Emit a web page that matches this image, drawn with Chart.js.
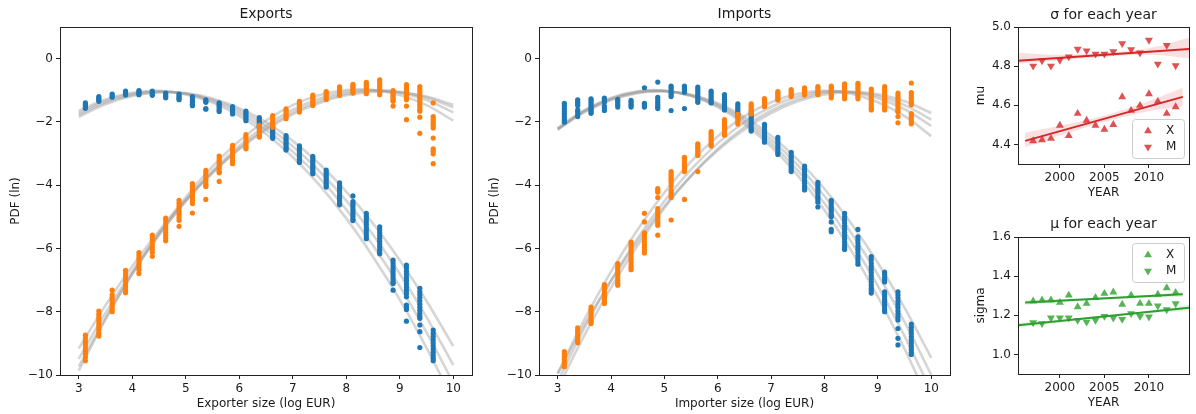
<!DOCTYPE html>
<html>
<head>
<meta charset="utf-8">
<script src="https://cdn.jsdelivr.net/npm/chart.js@4.4.1/dist/chart.umd.min.js"></script>
<style>
  body { margin: 0; background: #fff; }
  #wrap { position: relative; width: 1196px; height: 414px; }
  canvas { position: absolute; }
</style>
</head>
<body>
<div id="wrap">
  <canvas id="chartExp" width="480" height="414" style="left:0;top:0"></canvas>
  <canvas id="chartImp" width="480" height="414" style="left:479px;top:0"></canvas>
  <canvas id="chartMu" width="231" height="203" style="left:965px;top:0"></canvas>
  <canvas id="chartSigma" width="231" height="206" style="left:965px;top:207px"></canvas>
</div>
<script>
// ================= SIZE BINS / TICKS =================
const sizeBins = [3.125, 3.375, 3.625, 3.875, 4.125, 4.375, 4.625, 4.875, 5.125, 5.375, 5.625, 5.875, 6.125, 6.375,
  6.625, 6.875, 7.125, 7.375, 7.625, 7.875, 8.125, 8.375, 8.625, 8.875, 9.125, 9.375, 9.625];
const curveX = [3, 3.5, 4, 4.5, 5, 5.5, 6, 6.5, 7, 7.5, 8, 8.5, 9, 9.5, 10];
const sizeTicks = [3, 4, 5, 6, 7, 8, 9, 10];
const pdfTicks = [0, -2, -4, -6, -8, -10];

// ================= EXPORTS: ln PDF per bin (one list per bin) =================
const expX = [
  [-1.40, -1.45, -1.50, -1.54, -1.57], [-1.20, -1.25, -1.30, -1.35], [-1.12, -1.17, -1.22], [-1.03, -1.08, -1.12, -1.15],
  [-1.01, -1.06, -1.10, -1.14], [-1.03, -1.08, -1.12, -1.16], [-1.09, -1.14, -1.19, -1.24], [-1.12, -1.17, -1.22, -1.26, -1.30],
  [-1.20, -1.26, -1.32, -1.38, -1.44, -1.49], [-1.30, -1.34, -1.38, -1.58, -1.60], [-1.40, -1.45, -1.50, -1.55, -1.62, -1.67],
  [-1.52, -1.58, -1.64, -1.70, -1.75], [-1.66, -1.72, -1.78, -1.84, -1.90, -1.96], [-1.86, -1.92, -1.98, -2.04, -2.10, -2.16],
  [-2.18, -2.24, -2.30, -2.36, -2.42, -2.47, -2.52], [-2.43, -2.50, -2.57, -2.64, -2.71, -2.78, -2.84, -2.89],
  [-2.76, -2.83, -2.90, -2.97, -3.04, -3.11, -3.18, -3.24, -3.28], [-3.09, -3.16, -3.23, -3.30, -3.37, -3.44, -3.51, -3.58, -3.64],
  [-3.52, -3.59, -3.66, -3.73, -3.80, -3.87, -3.94, -4.00, -4.06], [-3.93, -4.01, -4.09, -4.17, -4.25, -4.33, -4.41, -4.49, -4.56, -4.62],
  [-4.34, -4.52, -4.60, -4.68, -4.76, -4.84, -4.92, -5.00, -5.07, -5.12], [-4.89, -4.98, -5.07, -5.16, -5.25, -5.34, -5.43, -5.52, -5.61, -5.69],
  [-5.32, -5.41, -5.50, -5.59, -5.68, -5.77, -5.86, -5.95, -6.04, -6.11, -6.17],
  [-6.37, -6.46, -6.55, -6.64, -6.73, -6.82, -6.91, -7.00, -7.07, -7.11, -7.32],
  [-6.53, -6.62, -6.72, -6.82, -6.92, -7.02, -7.12, -7.22, -7.32, -7.42, -7.53, -7.79, -7.86, -7.93, -8.30],
  [-7.26, -7.36, -7.46, -7.56, -7.66, -7.76, -7.86, -7.96, -8.06, -8.14, -8.21, -8.42, -8.63, -9.13],
  [-8.58, -8.68, -8.78, -8.88, -8.98, -9.08, -9.18, -9.28, -9.38, -9.47, -9.55]
];
const expM = [
  [-8.74, -8.84, -8.94, -9.04, -9.14, -9.24, -9.34, -9.44, -9.55], [-7.98, -8.08, -8.18, -8.28, -8.38, -8.48, -8.58, -8.68, -8.77],
  [-7.32, -7.47, -7.56, -7.65, -7.74, -7.83, -7.92, -8.00], [-6.69, -6.78, -6.87, -6.96, -7.05, -7.14, -7.23, -7.32, -7.40],
  [-6.13, -6.22, -6.31, -6.40, -6.49, -6.58, -6.67, -6.79], [-5.58, -5.67, -5.76, -5.85, -5.94, -6.03, -6.12, -6.25],
  [-5.04, -5.13, -5.22, -5.31, -5.40, -5.49, -5.58, -5.67, -5.76], [-4.48, -4.57, -4.66, -4.75, -4.84, -4.93, -5.02, -5.11, -5.30],
  [-3.95, -4.04, -4.13, -4.22, -4.31, -4.40, -4.49, -4.58, -4.88], [-3.53, -3.61, -3.69, -3.77, -3.85, -3.93, -4.00, -4.04, -4.45],
  [-3.08, -3.16, -3.24, -3.32, -3.40, -3.48, -3.56, -3.61, -3.88], [-2.74, -2.82, -2.90, -2.98, -3.06, -3.14, -3.22, -3.28, -3.32],
  [-2.40, -2.48, -2.56, -2.64, -2.72, -2.79, -2.85], [-2.11, -2.18, -2.25, -2.32, -2.39, -2.44, -2.48],
  [-1.80, -1.87, -1.94, -2.01, -2.08, -2.13, -2.17], [-1.59, -1.65, -1.71, -1.77, -1.83, -1.90],
  [-1.35, -1.41, -1.47, -1.53, -1.59, -1.64, -1.69], [-1.15, -1.21, -1.27, -1.33, -1.39, -1.44, -1.48],
  [-1.04, -1.10, -1.16, -1.22, -1.29], [-0.89, -0.95, -1.01, -1.07, -1.12, -1.16], [-0.81, -0.87, -0.93, -0.99, -1.04, -1.09],
  [-0.75, -0.81, -0.87, -0.93, -0.99, -1.05, -1.11], [-0.67, -0.74, -0.81, -0.88, -0.95, -1.02, -1.08, -1.14],
  [-1.01, -1.07, -1.13, -1.19, -1.25, -1.31, -1.35, -1.50], [-0.82, -0.89, -0.96, -1.03, -1.10, -1.17, -1.24, -1.30, -1.50, -1.93],
  [-0.88, -0.96, -1.04, -1.12, -1.20, -1.28, -1.36, -1.44, -1.52, -1.60, -1.66, -1.85, -2.36],
  [-1.40, -1.83, -1.90, -1.97, -2.04, -2.11, -2.19, -2.51, -2.85, -2.93, -3.01, -3.32]
];

// ================= IMPORTS: ln PDF per bin =================
const impX = [
  [-1.41, -1.49, -1.57, -1.65, -1.73, -1.81, -1.89, -1.96, -2.01], [-1.30, -1.36, -1.42, -1.48, -1.62, -1.68, -1.75, -1.83],
  [-1.27, -1.33, -1.39, -1.45, -1.51, -1.57, -1.63, -1.68, -1.73], [-1.25, -1.31, -1.37, -1.50, -1.56, -1.64],
  [-1.29, -1.34, -1.40, -1.46, -1.53], [-1.32, -1.37, -1.43, -1.48, -1.53], [-0.92, -1.41, -1.46, -1.50, -1.53],
  [-0.74, -1.22, -1.30, -1.38, -1.46, -1.52, -1.58], [-0.87, -0.94, -1.01, -1.08, -1.14, -1.20, -1.64],
  [-0.87, -0.93, -0.99, -1.06, -1.58], [-0.90, -0.97, -1.04, -1.11, -1.18, -1.25, -1.32, -1.38],
  [-1.03, -1.10, -1.17, -1.24, -1.31, -1.36, -1.40], [-1.14, -1.21, -1.28, -1.35, -1.42, -1.49, -1.56, -1.62],
  [-1.43, -1.50, -1.57, -1.64, -1.71, -1.76, -1.80], [-1.69, -1.77, -1.85, -1.93, -2.01, -2.09, -2.17, -2.24, -2.29],
  [-2.08, -2.16, -2.24, -2.32, -2.40, -2.48, -2.56, -2.64], [-2.49, -2.57, -2.65, -2.73, -2.81, -2.89, -2.97, -3.03],
  [-2.96, -3.04, -3.12, -3.20, -3.28, -3.36, -3.44, -3.51, -3.57], [-3.40, -3.49, -3.58, -3.67, -3.76, -3.85, -3.94, -4.03, -4.10, -4.15],
  [-3.91, -3.99, -4.07, -4.15, -4.23, -4.31, -4.39, -4.47, -4.54, -4.69],
  [-4.48, -4.56, -4.64, -4.72, -4.80, -4.88, -4.95, -5.00, -5.16, -5.40, -5.47],
  [-4.89, -4.99, -5.09, -5.19, -5.29, -5.39, -5.49, -5.59, -5.69, -5.79, -5.89, -5.97, -6.03],
  [-5.40, -5.63, -5.73, -5.83, -5.93, -6.03, -6.13, -6.23, -6.33, -6.42, -6.50],
  [-6.26, -6.36, -6.46, -6.56, -6.66, -6.76, -6.86, -6.96, -7.06, -7.16, -7.26, -7.34, -7.41],
  [-6.75, -6.83, -6.91, -6.99, -7.06, -7.37, -7.45, -7.53, -7.61, -7.69, -7.77, -7.85, -7.93, -8.00],
  [-7.37, -7.47, -7.57, -7.67, -7.77, -7.87, -7.97, -8.07, -8.17, -8.26, -8.53, -8.84, -9.05],
  [-8.39, -8.49, -8.59, -8.69, -8.79, -8.89, -8.99, -9.09, -9.19, -9.28, -9.35]
];
const impM = [
  [-9.26, -9.34, -9.42, -9.50, -9.58, -9.66, -9.74], [-8.51, -8.59, -8.67, -8.75, -8.83, -8.91, -8.98],
  [-7.85, -7.93, -8.01, -8.09, -8.17, -8.25, -8.32, -8.37], [-7.14, -7.22, -7.30, -7.38, -7.46, -7.54, -7.62, -7.69, -7.74],
  [-6.48, -6.57, -6.66, -6.75, -6.84, -6.93, -7.02, -7.10, -7.16],
  [-5.80, -5.89, -5.98, -6.07, -6.16, -6.25, -6.34, -6.43, -6.52, -6.60, -6.67],
  [-4.89, -5.16, -5.51, -5.60, -5.69, -5.78, -5.87, -5.96, -6.05, -6.14],
  [-4.11, -4.17, -4.22, -4.39, -4.74, -4.82, -4.90, -4.98, -5.06, -5.14, -5.21, -5.27, -5.58],
  [-3.57, -3.64, -3.71, -3.78, -3.85, -3.92, -4.02, -4.16, -4.24, -4.32, -4.39, -5.10],
  [-3.12, -3.20, -3.28, -3.36, -3.44, -3.52, -3.57, -4.45], [-2.69, -2.76, -2.83, -2.90, -2.97, -3.03, -3.06, -3.57],
  [-2.31, -2.38, -2.45, -2.52, -2.59, -2.66, -2.72, -2.76], [-1.93, -2.00, -2.07, -2.14, -2.21, -2.28, -2.35, -2.42],
  [-1.76, -1.82, -1.88, -1.94, -2.00, -2.07], [-1.43, -1.49, -1.55, -1.61, -1.67, -1.75], [-1.26, -1.32, -1.38, -1.44, -1.52],
  [-1.04, -1.10, -1.16, -1.22, -1.28, -1.31], [-0.98, -1.04, -1.10, -1.15, -1.20], [-0.92, -0.98, -1.04, -1.10, -1.15],
  [-0.88, -0.94, -1.00, -1.06, -1.11, -1.14], [-0.87, -0.93, -0.99, -1.05, -1.11, -1.17, -1.24],
  [-0.80, -0.87, -0.94, -1.01, -1.08, -1.15, -1.21, -1.27], [-0.78, -0.85, -0.92, -0.99, -1.06, -1.13, -1.20, -1.27],
  [-0.96, -1.04, -1.12, -1.20, -1.28, -1.36, -1.44, -1.52, -1.58, -1.62],
  [-0.88, -0.96, -1.04, -1.12, -1.20, -1.28, -1.36, -1.44, -1.52, -1.58, -1.62],
  [-1.09, -1.17, -1.25, -1.33, -1.41, -1.49, -1.57, -1.64, -1.69, -1.83, -2.03],
  [-0.77, -1.07, -1.15, -1.23, -1.31, -1.39, -1.46, -1.74, -1.82, -1.90, -1.98, -2.06]
];

// ================= FITTED ln PDF CURVES (values at curveX) =================
const expXFits = [
  [-1.65, -1.29, -1.08, -1.02, -1.13, -1.39, -1.81, -2.38, -3.11, -4.00, -5.05, -6.26, -7.62, -9.14, -10.81],
  [-1.72, -1.34, -1.11, -1.03, -1.11, -1.34, -1.72, -2.25, -2.94, -3.77, -4.77, -5.91, -7.20, -8.65, -10.25],
  [-1.78, -1.39, -1.15, -1.05, -1.10, -1.30, -1.64, -2.13, -2.77, -3.56, -4.49, -5.57, -6.80, -8.17, -9.69],
  [-1.84, -1.44, -1.18, -1.07, -1.09, -1.26, -1.57, -2.01, -2.60, -3.33, -4.20, -5.21, -6.37, -7.66, -9.09]
];
const expMFits = [
  [-9.86, -8.25, -6.80, -5.51, -4.38, -3.41, -2.60, -1.96, -1.47, -1.15, -0.99, -0.99, -1.15, -1.47, -1.96],
  [-9.73, -8.20, -6.81, -5.58, -4.49, -3.55, -2.76, -2.11, -1.61, -1.26, -1.05, -0.99, -1.08, -1.31, -1.70],
  [-9.49, -8.04, -6.73, -5.55, -4.51, -3.61, -2.84, -2.20, -1.70, -1.34, -1.11, -1.01, -1.05, -1.23, -1.54],
  [-9.16, -7.80, -6.56, -5.45, -4.46, -3.60, -2.86, -2.25, -1.76, -1.40, -1.16, -1.05, -1.06, -1.20, -1.46]
];
const impXFits = [
  [-2.20, -1.63, -1.24, -1.03, -1.01, -1.18, -1.53, -2.07, -2.79, -3.70, -4.79, -6.07, -7.53, -9.18, -11.02],
  [-2.22, -1.65, -1.26, -1.05, -1.02, -1.17, -1.49, -1.99, -2.68, -3.54, -4.58, -5.79, -7.19, -8.77, -10.52],
  [-2.23, -1.67, -1.29, -1.07, -1.03, -1.15, -1.45, -1.92, -2.56, -3.37, -4.35, -5.51, -6.83, -8.33, -10.00],
  [-2.25, -1.70, -1.31, -1.09, -1.03, -1.14, -1.41, -1.84, -2.44, -3.20, -4.12, -5.21, -6.46, -7.88, -9.46]
];
const impMFits = [
  [-9.95, -8.25, -6.73, -5.40, -4.23, -3.25, -2.45, -1.82, -1.38, -1.11, -1.02, -1.11, -1.38, -1.82, -2.45],
  [-10.20, -8.52, -7.01, -5.67, -4.50, -3.50, -2.67, -2.01, -1.52, -1.20, -1.04, -1.06, -1.25, -1.60, -2.13],
  [-10.42, -8.75, -7.24, -5.90, -4.72, -3.70, -2.85, -2.16, -1.64, -1.28, -1.08, -1.05, -1.18, -1.47, -1.93],
  [-9.96, -8.41, -7.02, -5.77, -4.66, -3.71, -2.90, -2.24, -1.72, -1.35, -1.13, -1.06, -1.13, -1.35, -1.72]
];

// ================= YEARLY PARAMETERS =================
const years = [1997, 1998, 1999, 2000, 2001, 2002, 2003, 2004, 2005, 2006, 2007, 2008, 2009, 2010, 2011, 2012, 2013];
const yearTicks = [2000, 2005, 2010];
const seriesNames = ["X", "M"];

const muX = [4.418, 4.423, 4.430, 4.497, 4.444, 4.558, 4.523, 4.497, 4.477, 4.501, 4.643, 4.573, 4.599, 4.658, 4.619, 4.558, 4.592];
const muM = [4.801, 4.828, 4.801, 4.831, 4.848, 4.887, 4.879, 4.862, 4.862, 4.874, 4.916, 4.885, 4.868, 4.933, 4.811, 4.907, 4.803];
const sigmaX = [1.272, 1.277, 1.277, 1.265, 1.302, 1.243, 1.260, 1.290, 1.311, 1.318, 1.256, 1.302, 1.260, 1.260, 1.307, 1.340, 1.316];
const sigmaM = [1.163, 1.158, 1.187, 1.187, 1.187, 1.175, 1.166, 1.175, 1.195, 1.187, 1.180, 1.209, 1.195, 1.192, 1.248, 1.229, 1.260];
const muTicks = [4.4, 4.6, 4.8, 5.0];
const sigmaTicks = [1.0, 1.2, 1.4, 1.6];

// regression lines and their confidence bands
const fitYearsX = [1996.1, 2013.8];
const fitYearsM = [1995.3, 2014.5];
const bandYearsX = [1996.1, 2000, 2005, 2010, 2013.8];
const bandYearsM = [1995.3, 2000, 2005, 2010, 2014.5];

const muXLine = [4.418, 4.643];
const muMLine = [4.828, 4.887];
const muXBandLo = [4.385, 4.445, 4.515, 4.570, 4.595];
const muXBandHi = [4.460, 4.495, 4.548, 4.622, 4.690];
const muMBandLo = [4.812, 4.830, 4.848, 4.858, 4.840];
const muMBandHi = [4.868, 4.858, 4.870, 4.892, 4.945];

const sigmaXLine = [1.265, 1.307];
const sigmaMLine = [1.149, 1.239];
const sigmaXBandLo = [1.253, 1.266, 1.280, 1.290, 1.295];
const sigmaXBandHi = [1.277, 1.282, 1.291, 1.305, 1.319];
const sigmaMBandLo = [1.137, 1.164, 1.189, 1.210, 1.226];
const sigmaMBandHi = [1.161, 1.176, 1.198, 1.223, 1.252];

// ================= STYLE =================
const FONT = "'DejaVu Sans', sans-serif";
const TEXT = "#1a1a1a";
const BLUE = "#1f77b4";
const ORANGE = "#ff7f0e";
const RED = "#d62728";
const GREEN = "#2ca02c";
const GREY = "rgba(150,150,150,0.4)";

function rgba(hex, a) {
  const n = parseInt(hex.slice(1), 16);
  return `rgba(${n >> 16},${(n >> 8) & 255},${n & 255},${a})`;
}

// bins x lists -> flat scatter points
function binPoints(bins, cols) {
  const out = [];
  bins.forEach((x, i) => cols[i].forEach(y => out.push({ x, y })));
  return out;
}
function xy(xs, ys) {
  return xs.map((x, i) => ({ x, y: ys[i] }));
}

// full box around the plot area
const frame = {
  id: "frame",
  afterDraw(chart) {
    const { ctx, chartArea: a } = chart;
    ctx.save();
    ctx.strokeStyle = "#222";
    ctx.lineWidth = 1;
    const l = Math.round(a.left) + 0.5, t = Math.round(a.top) + 0.5;
    ctx.strokeRect(l, t, Math.round(a.right) - Math.round(a.left), Math.round(a.bottom) - Math.round(a.top));
    ctx.restore();
  }
};

// legend drawn inside the plot area
const insideLegend = {
  id: "insideLegend",
  afterDraw(chart, args, opts) {
    if (!opts.items) return;
    const { ctx, chartArea: a } = chart;
    const w = 52, h = 39;
    const x0 = Math.round(a.right) - 5 - w;
    const y0 = opts.corner === "top" ? Math.round(a.top) + 6 : Math.round(a.bottom) - 6 - h;
    ctx.save();
    ctx.fillStyle = "rgba(255,255,255,0.8)";
    ctx.strokeStyle = "#cccccc";
    ctx.lineWidth = 1;
    ctx.beginPath();
    ctx.roundRect(x0 + 0.5, y0 + 0.5, w, h, 3);
    ctx.fill();
    ctx.stroke();
    opts.items.forEach((it, i) => {
      const cy = y0 + 12 + i * 16;
      ctx.fillStyle = it.color;
      Chart.helpers.drawPoint(ctx, { pointStyle: "triangle", rotation: it.rotation, radius: 4.6, borderWidth: 0 }, x0 + 16, cy);
      ctx.fillStyle = TEXT;
      ctx.font = "12px " + FONT;
      ctx.textAlign = "left";
      ctx.textBaseline = "middle";
      ctx.fillText(it.label, x0 + 34, cy);
    });
    ctx.restore();
  }
};

// ================= AXES =================
function axis(opt) {
  return {
    type: "linear",
    min: opt.min,
    max: opt.max,
    afterBuildTicks: s => { s.ticks = opt.ticks.map(v => ({ value: v })); },
    afterFit: s => {
      if (s.isHorizontal()) s.height = 39;
      else s.width = opt.width;
    },
    grid: { display: true, drawOnChartArea: false, drawTicks: true, tickLength: 4, tickColor: "#222" },
    border: { display: false },
    ticks: {
      color: TEXT, font: { family: FONT, size: 12 }, padding: 3,
      maxRotation: 0, autoSkip: false, callback: opt.fmt
    },
    title: {
      display: true, text: opt.title, color: TEXT, font: { family: FONT, size: 12 },
      padding: opt.horizontal ? { top: 0, bottom: 2.8 } : { top: 8.8, bottom: 0 }
    }
  };
}

const fmtPdf = v => (v < 0 ? "\u2212" + (-v) : String(v));
const fmtYear = v => String(v);
const fmt1 = v => v.toFixed(1);

function baseOptions(title, titlePad, rightPad, xAx, yAx, legend) {
  return {
    responsive: false,
    animation: false,
    events: [],
    layout: { padding: { left: 0, right: rightPad, top: 0, bottom: 0 } },
    plugins: {
      legend: { display: false },
      tooltip: { enabled: false },
      title: {
        display: true, text: title, color: TEXT, fullSize: false,
        font: { family: FONT, size: 14, weight: "normal" },
        padding: titlePad
      },
      insideLegend: legend || {}
    },
    scales: { x: xAx, y: yAx }
  };
}

// ================= PDF PANELS =================
function pdfChart(id, title, xTitle, xCols, mCols, xFits, mFits, rightPad) {
  const dots = { pointRadius: 2.6, borderWidth: 0, showLine: false };
  const datasets = [
    { ...dots, data: binPoints(sizeBins, mCols), backgroundColor: ORANGE },
    { ...dots, data: binPoints(sizeBins, xCols), backgroundColor: BLUE }
  ];
  xFits.concat(mFits).forEach(f => {
    datasets.push({
      data: xy(curveX, f), showLine: true, pointRadius: 0,
      borderColor: GREY, borderWidth: 2.6, tension: 0.4
    });
  });
  new Chart(document.getElementById(id), {
    type: "scatter",
    data: { datasets },
    options: baseOptions(title, { top: 6, bottom: 4.2 }, rightPad,
      axis({ min: 2.65, max: 10.35, ticks: sizeTicks, fmt: fmtYear, title: xTitle, horizontal: true }),
      axis({ min: -10, max: 1, ticks: pdfTicks, fmt: fmtPdf, title: "PDF (ln)", width: 60 })),
    plugins: [frame]
  });
}

pdfChart("chartExp", "Exports", "Exporter size (log EUR)", expX, expM, expXFits, expMFits, 8);
pdfChart("chartImp", "Imports", "Importer size (log EUR)", impX, impM, impXFits, impMFits, 9);

// ================= YEARLY PANELS =================
function yearChart(id, p) {
  const line = { showLine: true, pointRadius: 0, borderColor: p.color, borderWidth: 2 };
  const tri = { pointStyle: "triangle", pointRadius: 4.6, borderWidth: 0, backgroundColor: rgba(p.color, 0.8) };
  const band = { showLine: true, pointRadius: 0, borderWidth: 0, tension: 0.4, backgroundColor: rgba(p.color, 0.15) };
  const datasets = [
    { ...line, data: xy(fitYearsX, p.xLine) },
    { ...line, data: xy(fitYearsM, p.mLine) },
    { ...tri, data: xy(years, p.x), pointRotation: 0 },
    { ...tri, data: xy(years, p.m), pointRotation: 180 },
    { ...band, data: xy(bandYearsX, p.xLo), fill: false },
    { ...band, data: xy(bandYearsX, p.xHi), fill: "-1" },
    { ...band, data: xy(bandYearsM, p.mLo), fill: false },
    { ...band, data: xy(bandYearsM, p.mHi), fill: "-1" }
  ];
  const legend = {
    corner: p.legendCorner,
    items: [
      { label: seriesNames[0], color: rgba(p.color, 0.8), rotation: 0 },
      { label: seriesNames[1], color: rgba(p.color, 0.8), rotation: 180 }
    ]
  };
  new Chart(document.getElementById(id), {
    type: "scatter",
    data: { datasets },
    options: baseOptions(p.title, p.titlePad, 7,
      axis({ min: 1995.3, max: 2014.5, ticks: yearTicks, fmt: fmtYear, title: "YEAR", horizontal: true }),
      axis({ min: p.min, max: p.max, ticks: p.ticks, fmt: fmt1, title: p.yTitle, width: 53 }),
      legend),
    plugins: [frame, insideLegend]
  });
}

yearChart("chartMu", {
  title: "\u03c3 for each year", yTitle: "mu", color: RED, min: 4.3, max: 5.0, ticks: muTicks,
  titlePad: { top: 6.6, bottom: 3.6 }, legendCorner: "bottom",
  x: muX, m: muM, xLine: muXLine, mLine: muMLine,
  xLo: muXBandLo, xHi: muXBandHi, mLo: muMBandLo, mHi: muMBandHi
});

yearChart("chartSigma", {
  title: "\u03bc for each year", yTitle: "sigma", color: GREEN, min: 0.9, max: 1.6, ticks: sigmaTicks,
  titlePad: { top: 9, bottom: 4.2 }, legendCorner: "top",
  x: sigmaX, m: sigmaM, xLine: sigmaXLine, mLine: sigmaMLine,
  xLo: sigmaXBandLo, xHi: sigmaXBandHi, mLo: sigmaMBandLo, mHi: sigmaMBandHi
});
</script>
</body>
</html>
